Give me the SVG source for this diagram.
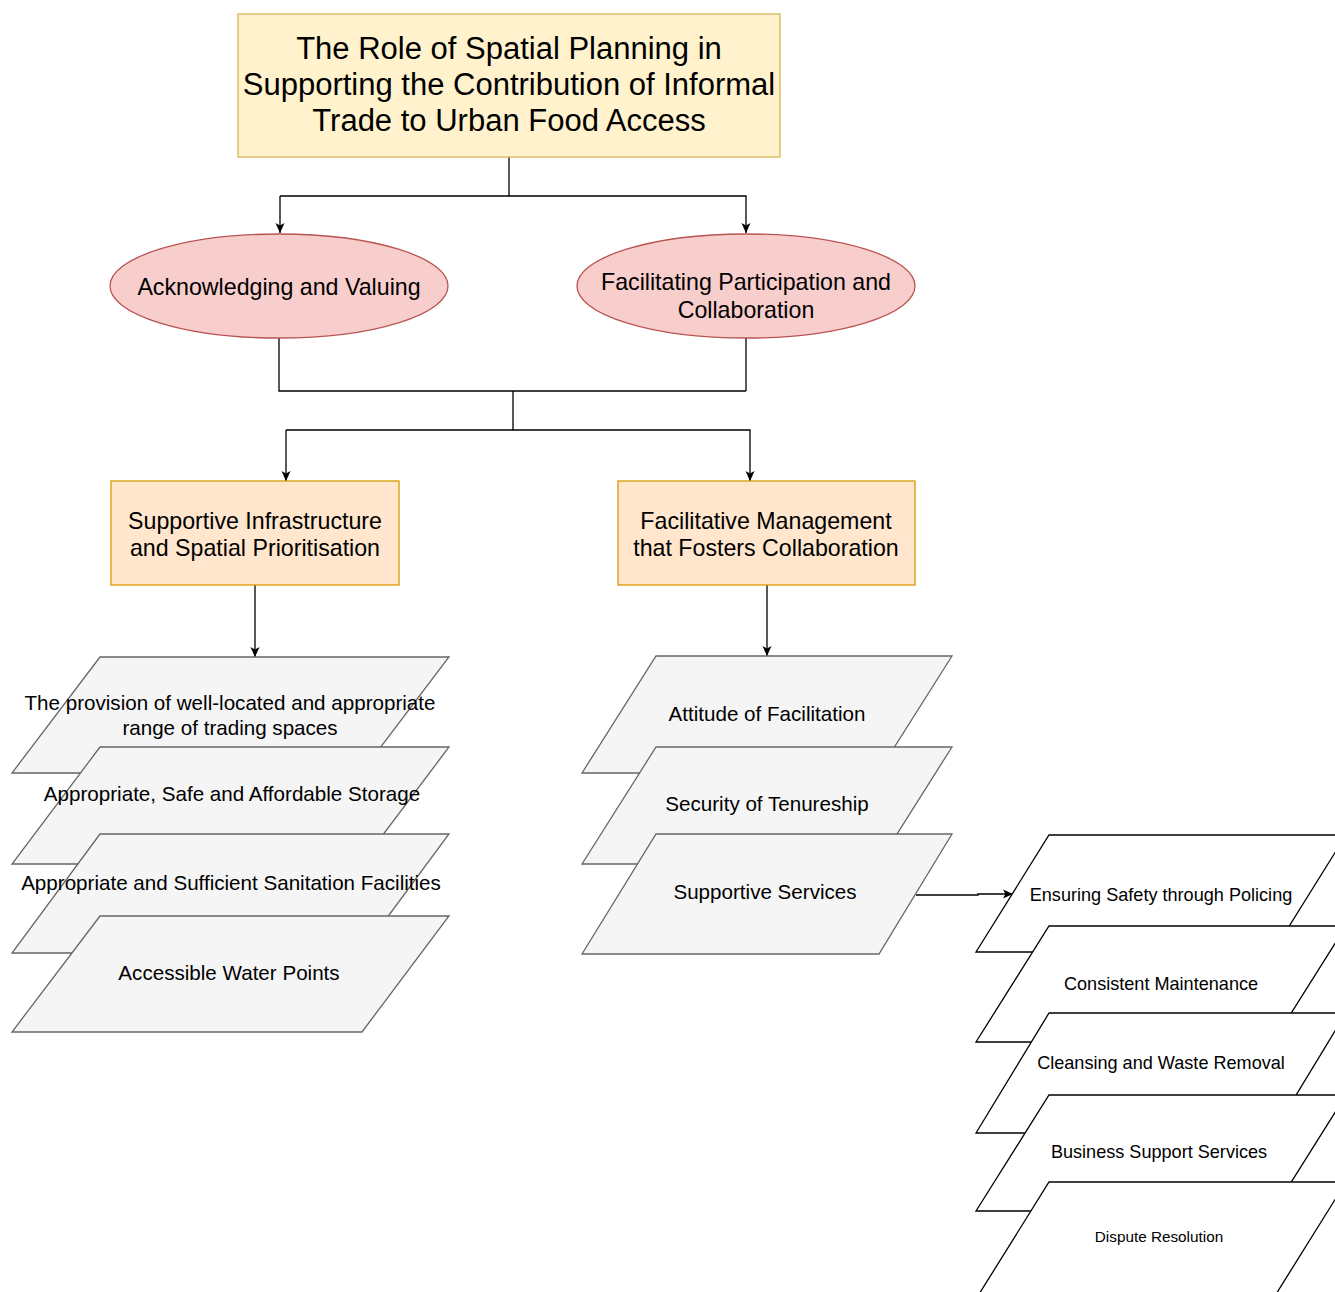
<svg xmlns="http://www.w3.org/2000/svg" width="1335" height="1292" viewBox="0 0 1335 1292">
<style>
text{font-family:"Liberation Sans",Arial,Helvetica,sans-serif;fill:#000;text-anchor:middle;}
.t1{font-size:31px;}
.t2{font-size:23.2px;}
.t3{font-size:20.6px;}
.t4{font-size:18.1px;}
.t5{font-size:15.3px;}
.yel{fill:#fff2cc;stroke:#d6b656;stroke-width:1.3;}
.red{fill:#f8cecc;stroke:#b85450;stroke-width:1.3;}
.ora{fill:#ffe6cc;stroke:#d79b00;stroke-width:1.3;}
.gry{fill:#f5f5f5;stroke:#666;stroke-width:1.3;}
.wht{fill:#fff;stroke:#000;stroke-width:1.3;}
.c{fill:none;stroke:#000;stroke-width:1.3;}
.a{marker-end:url(#arr);}
</style>
<defs>
<marker id="arr" markerUnits="userSpaceOnUse" markerWidth="11" markerHeight="11" viewBox="0 0 11 11" refX="10" refY="5.5" orient="auto">
<path d="M0,1 L10,5.5 L0,10 L2.5,5.5 Z" fill="#000"/>
</marker>
</defs>
<rect width="1335" height="1292" fill="#fff"/>

<g id="connectors">
<path class="c" d="M509,157 V196 H280"/>
<path class="c a" d="M280,196 V233"/>
<path class="c a" d="M509,196 H746 V233"/>
<path class="c" d="M279,338 V391 H746 M746,338 V391 M513,391 V430 H286"/>
<path class="c a" d="M286,430 V481"/>
<path class="c a" d="M513,430 H750 V481"/>
<path class="c a" d="M255,585 V657"/>
<path class="c a" d="M767,585 V656"/>
<path class="c a" d="M916,895 H978 V894 H1013"/>
</g>

<g id="title">
<rect class="yel" x="238" y="14" width="542" height="143"/>
<text class="t1" x="509" y="59">The Role of Spatial Planning in</text>
<text class="t1" x="509" y="95">Supporting the Contribution of Informal</text>
<text class="t1" x="509" y="131">Trade to Urban Food Access</text>
</g>

<g id="acknowledging">
<ellipse class="red" cx="279" cy="286" rx="169" ry="52"/>
<text class="t2" x="279" y="295">Acknowledging and Valuing</text>
</g>
<g id="facilitating">
<ellipse class="red" cx="746" cy="286" rx="169" ry="52"/>
<text class="t2" x="746" y="290">Facilitating Participation and</text>
<text class="t2" x="746" y="318">Collaboration</text>
</g>

<g id="supportive-infrastructure">
<rect class="ora" x="111" y="481" width="288" height="104"/>
<text class="t2" x="255" y="529">Supportive Infrastructure</text>
<text class="t2" x="255" y="556">and Spatial Prioritisation</text>
</g>
<g id="facilitative-management">
<rect class="ora" x="618" y="481" width="297" height="104"/>
<text class="t2" x="766" y="529">Facilitative Management</text>
<text class="t2" x="766" y="556">that Fosters Collaboration</text>
</g>

<g id="provision">
<polygon class="gry" points="100,657 449,657 361,773 12,773"/>
<text class="t3" x="230" y="710">The provision of well-located and appropriate</text>
<text class="t3" x="230" y="735">range of trading spaces</text>
</g>
<g id="storage">
<polygon class="gry" points="100,747 449,747 361,864 12,864"/>
<text class="t3" x="232" y="801">Appropriate, Safe and Affordable Storage</text>
</g>
<g id="sanitation">
<polygon class="gry" points="100,834 449,834 361,953 12,953"/>
<text class="t3" x="231" y="890">Appropriate and Sufficient Sanitation Facilities</text>
</g>
<g id="water">
<polygon class="gry" points="100,916 449,916 362,1032 12,1032"/>
<text class="t3" x="229" y="980">Accessible Water Points</text>
</g>

<g id="attitude">
<polygon class="gry" points="656,656 952,656 878,773 582,773"/>
<text class="t3" x="767" y="721">Attitude of Facilitation</text>
</g>
<g id="security">
<polygon class="gry" points="656,747 952,747 878,864 582,864"/>
<text class="t3" x="767" y="811">Security of Tenureship</text>
</g>
<g id="supportive-services">
<polygon class="gry" points="656,834 952,834 879,954 582,954"/>
<text class="t3" x="765" y="899">Supportive Services</text>
</g>

<g id="policing">
<polygon class="wht" points="1049,835 1346,835 1273,952 976,952"/>
<text class="t4" x="1161" y="901">Ensuring Safety through Policing</text>
</g>
<g id="maintenance">
<polygon class="wht" points="1049,926 1346,926 1273,1042 976,1042"/>
<text class="t4" x="1161" y="990">Consistent Maintenance</text>
</g>
<g id="cleansing">
<polygon class="wht" points="1049,1013 1346,1013 1273,1133 976,1133"/>
<text class="t4" x="1161" y="1069">Cleansing and Waste Removal</text>
</g>
<g id="business">
<polygon class="wht" points="1049,1095 1346,1095 1273,1211 976,1211"/>
<text class="t4" x="1159" y="1158">Business Support Services</text>
</g>
<g id="dispute">
<polygon class="wht" points="1049,1182 1346,1182 1273,1299 976,1299"/>
<text class="t5" x="1159" y="1242">Dispute Resolution</text>
</g>
</svg>
